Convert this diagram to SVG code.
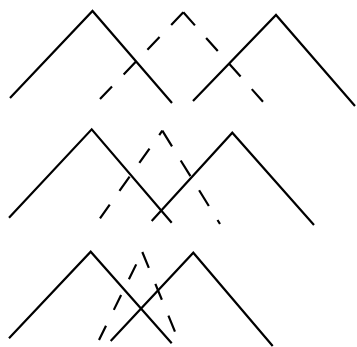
<svg xmlns="http://www.w3.org/2000/svg" width="357" height="347" viewBox="0 0 357 347">
<style>
.s{fill:none;stroke:#000;stroke-width:2.2;stroke-linejoin:miter}
.d{fill:none;stroke:#000;stroke-width:2.2;stroke-dasharray:17.5 16.8}
</style>
<rect width="357" height="347" fill="#fff"/>
<g id="row1">
<g id="r1-left"><path class="s" d="M10,98 L92.5,11 L172,103"/></g>
<g id="r1-right"><path class="s" d="M193,101 L276,15 L355,106"/></g>
<g id="r1-dashed"><path class="d" d="M183.3,12.3 L100,99"/><path class="d" d="M183.3,12.3 L263,101.7"/></g>
</g>
<g id="row2">
<g id="r2-left"><path class="s" d="M9,217.7 L91.7,129.3 L171.7,222.7"/></g>
<g id="r2-right"><path class="s" d="M151.7,221 L232.3,132.7 L314,225"/></g>
<g id="r2-dashed"><path class="d" d="M162.3,130.7 L100,218.3" stroke-dashoffset="12.2"/><path class="d" d="M162.3,130.7 L220,224" style="stroke-dasharray:18.5 16.5"/></g>
</g>
<g id="row3">
<g id="r3-left"><path class="s" d="M9,338.3 L90.7,251.7 L171.7,343.3"/></g>
<g id="r3-right"><path class="s" d="M110.7,341 L193.3,252.7 L272.7,346"/></g>
<g id="r3-dashed"><path class="d" d="M142.3,252 L99,340" style="stroke-dasharray:16.5 17.7" stroke-dashoffset="20.4"/><path class="d" d="M142.3,252 L175,331.7" style="stroke-dasharray:17.2 17.2"/></g>
</g>
</svg>
